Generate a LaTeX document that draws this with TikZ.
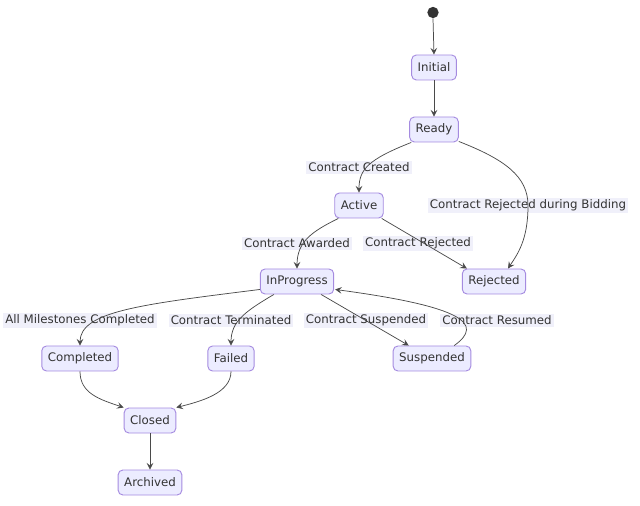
\documentclass[tikz,border=0pt]{standalone}
\usepackage{fontspec}
\setmainfont{DejaVu Sans}
\usetikzlibrary{arrows.meta,calc}
\definecolor{nodefill}{HTML}{ECECFF}
\definecolor{nodeborder}{HTML}{A58BE0}
\definecolor{ink}{HTML}{333333}
\definecolor{edgeink}{HTML}{4A4A4A}
\definecolor{lblbg}{HTML}{F0F0FA}
\tikzset{
  state/.style={draw=nodeborder, fill=nodefill, rounded corners=3.5pt, line width=0.7pt,
    minimum height=18.75pt, inner xsep=4.5pt, inner ysep=0pt, text=ink,
    font=\fontsize{8.85}{10}\selectfont},
  lbl/.style={fill=lblbg, inner xsep=1.5pt, inner ysep=1.5pt, text=ink,
    font=\fontsize{8.85}{10}\selectfont},
  edge/.style={draw=edgeink, line width=0.55pt, -{Stealth[length=5pt,width=5pt,inset=2pt]}},
}
\begin{document}
\begin{tikzpicture}[x=0.75pt,y=-0.75pt]
\useasboundingbox (0,-1.5) rectangle (640,504.5);
% nodes
\node[circle, fill=ink, inner sep=0pt, minimum size=8.5pt] (start) at (433,11) {};
\node[state] (initial) at (434,66) {Initial};
\node[state] (ready) at (434,128) {Ready};
\node[state] (active) at (359,204) {Active};
\node[state] (rejected) at (494,280) {Rejected};
\node[state] (inprogress) at (297,280) {InProgress};
\node[state] (completed) at (80,357) {Completed};
\node[state] (failed) at (231,357) {Failed};
\node[state] (suspended) at (432,357) {Suspended};
\node[state] (closed) at (150,419) {Closed};
\node[state] (archived) at (150,481) {Archived};
% labels
\node[lbl] (l1) at (359,166) {Contract Created};
\node[lbl] (l2) at (528,204) {Contract Rejected during Bidding};
\node[lbl] (l3) at (297,242) {Contract Awarded};
\node[lbl] (l4) at (418,242) {Contract Rejected};
\node[lbl] (l5) at (80,319) {All Milestones Completed};
\node[lbl] (l6) at (231,319) {Contract Terminated};
\node[lbl] (l7) at (366,319) {Contract Suspended};
\node[lbl] (l8) at (497,319) {Contract Resumed};
% edges
\draw[edge] (start.south) -- (initial.north);
\draw[edge] (initial.south) -- (ready.north);
\draw[edge] ($(ready.south west)+(2,0)$) .. controls (368,158) and (359,168) .. (active.north);
\draw[edge] ($(ready.south east)+(0,-1)$) .. controls (505,158) and (528,175) .. (528,204)
   .. controls (528,238) and (518,252) .. ($(rejected.north)+(14,0)$);
\draw[edge] ($(active.south west)+(4,0)$) .. controls (312,230) and (297,240) .. (inprogress.north);
\draw[edge] ($(active.south east)+(-2,0)$) -- ($(rejected.north west)+(5,0)$);
\draw[edge] ($(inprogress.south west)+(0,-5)$) .. controls (140,303) and (80,310) .. (completed.north);
\draw[edge] ($(inprogress.south west)+(14,0)$) .. controls (245,310) and (231,320) .. (failed.north);
\draw[edge] ($(inprogress.south east)+(-13,0)$) -- ($(suspended.north west)+(16,0)$);
\draw[edge] ($(suspended.north east)+(-17,0)$) .. controls (485,322) and (462,305) .. ($(inprogress.south east)+(1,-5)$);
\draw[edge] (completed.south) .. controls (80,392) and (100,398) .. (closed.north west);
\draw[edge] (failed.south) .. controls (231,392) and (200,400) .. (closed.north east);
\draw[edge] (closed.south) -- (archived.north);
\end{tikzpicture}
\end{document}
